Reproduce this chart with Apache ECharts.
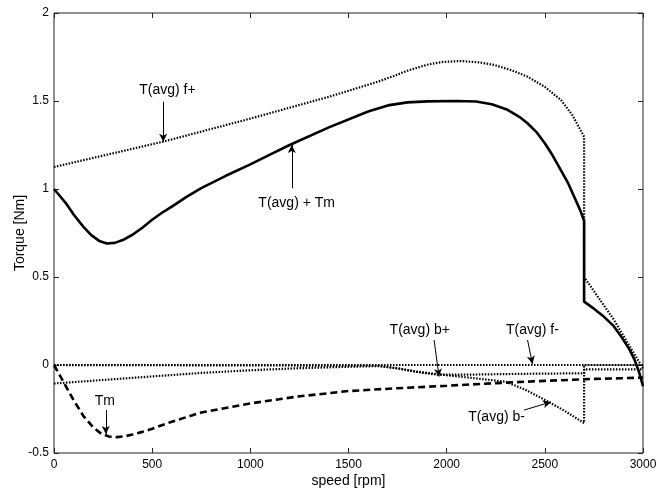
<!DOCTYPE html>
<html>
<head>
<meta charset="utf-8">
<script src="https://cdn.jsdelivr.net/npm/echarts@6/dist/echarts.min.js"></script>
<style>html,body{margin:0;padding:0;background:#fff}#c{width:657px;height:489px}</style>
</head>
<body>
<div id="c"></div>
<script>
// speed [rpm], torque [Nm]
var tavgPlusTm = [[0,1.0],[30,0.96],[60,0.92],[100,0.855],[150,0.785],[190,0.738],[230,0.705],[270,0.69],[310,0.694],[350,0.71],[400,0.74],[450,0.78],[500,0.825],[550,0.865],[600,0.9],[675,0.955],[750,1.005],[875,1.075],[1000,1.14],[1100,1.195],[1200,1.25],[1400,1.35],[1600,1.44],[1700,1.475],[1800,1.492],[1900,1.498],[2050,1.5],[2150,1.497],[2230,1.482],[2310,1.45],[2370,1.41],[2410,1.375],[2460,1.32],[2500,1.26],[2540,1.19],[2580,1.11],[2620,1.03],[2650,0.955],[2680,0.88],[2700,0.82],[2700,0.36],[2750,0.32],[2800,0.275],[2850,0.222],[2890,0.16],[2930,0.09],[2955,0.035],[2980,-0.04],[3000,-0.12]];
var tm = [[0,0],[25,-0.05],[50,-0.1],[100,-0.2],[150,-0.29],[200,-0.355],[240,-0.39],[280,-0.406],[320,-0.41],[360,-0.405],[400,-0.395],[450,-0.38],[500,-0.362],[600,-0.322],[750,-0.27],[1000,-0.218],[1250,-0.178],[1500,-0.148],[1750,-0.132],[2000,-0.118],[2250,-0.103],[2500,-0.09],[2750,-0.079],[3000,-0.072]];
var tavgFplus = [[0,1.125],[560,1.27],[1000,1.40],[1400,1.524],[1550,1.575],[1650,1.61],[1731,1.642],[1800,1.672],[1900,1.706],[1980,1.722],[2071,1.727],[2160,1.72],[2242,1.705],[2330,1.675],[2412,1.638],[2500,1.58],[2582,1.506],[2640,1.42],[2700,1.297],[2700,0.5],[2850,0.26],[3000,-0.02]];
var tavgFminus = [[0,0],[3000,0]];
var tavgBplus = [[0,-0.105],[250,-0.085],[500,-0.065],[750,-0.045],[1000,-0.03],[1250,-0.018],[1500,-0.01],[1650,-0.006],[1750,-0.018],[1850,-0.04],[1950,-0.055],[2100,-0.055],[2400,-0.05],[2700,-0.047],[2700,-0.025],[3000,-0.025]];
var tavgBminus = [[0,0],[1650,-0.004],[1750,-0.02],[1850,-0.038],[2000,-0.058],[2150,-0.076],[2300,-0.095],[2400,-0.14],[2520,-0.21],[2600,-0.26],[2700,-0.33],[2700,0],[3000,0]];

var xTicks = {min:0, max:3000, interval:500};
var yTicks = {min:-0.5, max:2, interval:0.5};

// annotations: label text, label position, arrow start, arrow end
var annLabels = ['T(avg) f+','T(avg) + Tm','Tm','T(avg) b+','T(avg) f-','T(avg) b-'];
var annTextPos = [[578,1.56],[1236,0.919],[259,-0.208],[1863,0.199],[2437,0.199],[2254,-0.294]];
var annFrom = [[556,1.496],[1211,1.004],[264,-0.256],[1936,0.142],[2412,0.142],[2395,-0.256]];
var annTo = [[556,1.269],[1211,1.25],[264,-0.392],[1961,-0.066],[2437,0.006],[2531,-0.21]];

var chart = echarts.init(document.getElementById('c'), null, {renderer:'canvas'});
var FONT = 'Liberation Sans, Arial, sans-serif';

var dotted = {color:'#000', width:2.2, type:[1.5,1.5]};

var arrows = annFrom.map(function(f,i){ return [{coord:f},{coord:annTo[i]}]; });
var texts = annLabels.map(function(t,i){
  return {coord:annTextPos[i], value:t, symbol:'circle', symbolSize:0,
    label:{show:true, position:'inside', formatter:t, color:'#000', fontSize:14, fontFamily:FONT}};
});
var plain = function(v){ return String(v); };

var option = {
  animation:false,
  backgroundColor:'#fff',
  grid:{left:54, right:14, top:13, bottom:36, containLabel:false, outerBoundsMode:'none',
        show:true, borderColor:'#222', borderWidth:1, backgroundColor:'transparent'},
  xAxis:[{
    type:'value', min:xTicks.min, max:xTicks.max, interval:xTicks.interval,
    name:'speed [rpm]', nameLocation:'middle', nameGap:21, nameMoveOverlap:false,
    nameTextStyle:{color:'#000', fontSize:14, fontFamily:FONT},
    axisLine:{show:false, onZero:false}, splitLine:{show:false},
    axisTick:{show:true, inside:true, length:5, lineStyle:{color:'#222'}},
    axisLabel:{color:'#000', fontSize:12, fontFamily:FONT, margin:6, formatter:plain}
  },{
    type:'value', position:'top', min:xTicks.min, max:xTicks.max, interval:xTicks.interval,
    axisLine:{show:false, onZero:false}, splitLine:{show:false}, axisLabel:{show:false},
    axisTick:{show:true, inside:true, length:5, lineStyle:{color:'#222'}}
  }],
  yAxis:[{
    type:'value', min:yTicks.min, max:yTicks.max, interval:yTicks.interval,
    name:'Torque [Nm]', nameLocation:'middle', nameGap:27, nameMoveOverlap:false,
    nameTextStyle:{color:'#000', fontSize:14, fontFamily:FONT},
    axisLine:{show:false, onZero:false}, splitLine:{show:false},
    axisTick:{show:true, inside:true, length:5, lineStyle:{color:'#222'}},
    axisLabel:{color:'#000', fontSize:12, fontFamily:FONT, margin:5, formatter:plain}
  },{
    type:'value', position:'right', min:yTicks.min, max:yTicks.max, interval:yTicks.interval,
    axisLine:{show:false, onZero:false}, splitLine:{show:false}, axisLabel:{show:false},
    axisTick:{show:true, inside:true, length:5, lineStyle:{color:'#222'}}
  }],
  series:[
    {name:'T(avg) f-', type:'line', data:tavgFminus, showSymbol:false, lineStyle:dotted},
    {name:'T(avg) b-', type:'line', data:tavgBminus, showSymbol:false, lineStyle:dotted},
    {name:'T(avg) b+', type:'line', data:tavgBplus, showSymbol:false, lineStyle:dotted},
    {name:'T(avg) f+', type:'line', data:tavgFplus, showSymbol:false, lineStyle:dotted},
    {name:'Tm', type:'line', data:tm, showSymbol:false, lineStyle:{color:'#000', width:2.6, type:[7,4]}},
    {name:'T(avg) + Tm', type:'line', data:tavgPlusTm, showSymbol:false, lineStyle:{color:'#000', width:2.6},
      markLine:{silent:true, symbol:['none','arrow'], symbolSize:[6,8],
        lineStyle:{color:'#000', width:1, type:'solid'}, label:{show:false}, data:arrows},
      markPoint:{silent:true, data:texts}
    }
  ]
};
chart.setOption(option);
</script>
</body>
</html>
